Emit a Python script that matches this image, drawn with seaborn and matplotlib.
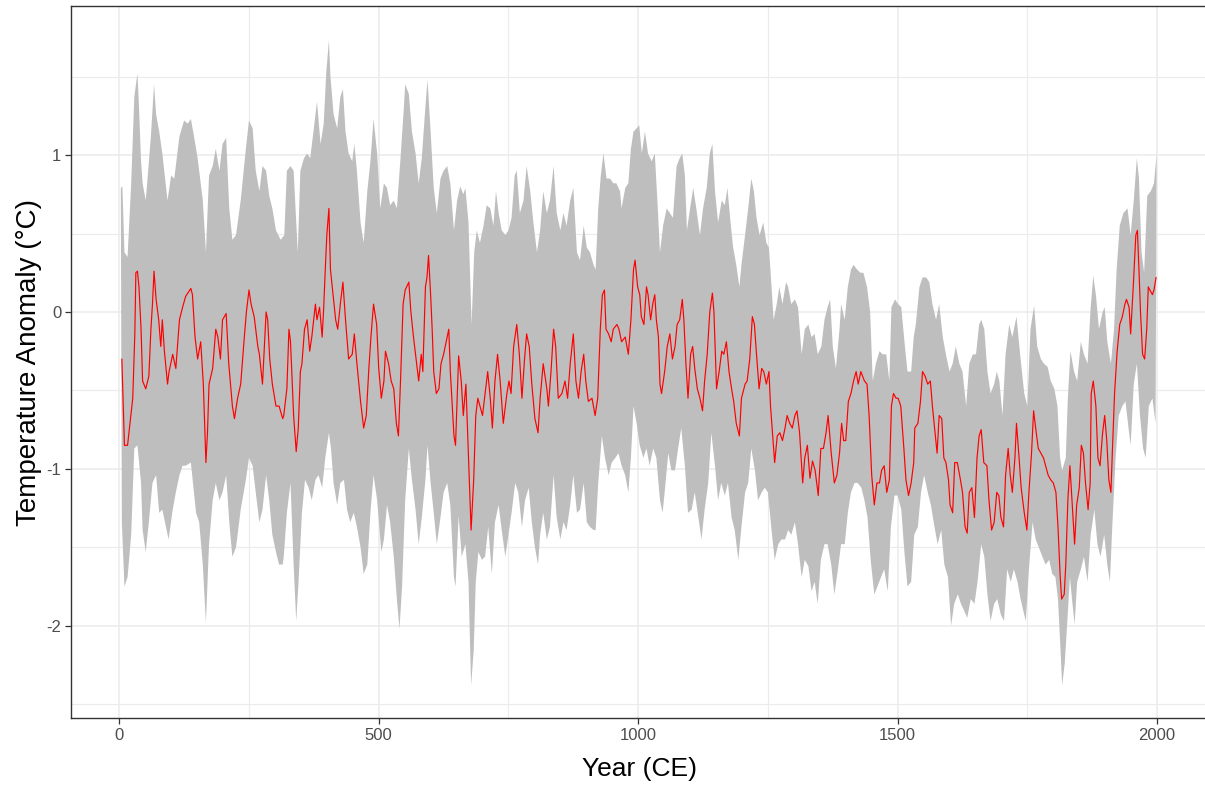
import numpy as np
import pandas as pd
import matplotlib
matplotlib.use("Agg")
import matplotlib.pyplot as plt
import seaborn as sns
from matplotlib.ticker import MultipleLocator

# ---------------- data ----------------
red_years = [5, 10, 16, 26, 30, 32, 35, 38, 42, 45, 51, 57, 61, 64, 67, 71, 76, 80, 83, 87, 93, 96,
             103, 109, 116, 122, 128, 138, 141, 146, 151, 157, 162, 167, 170, 173, 180, 186, 190, 195,
             199, 206, 211, 218, 222, 228, 234, 241, 245, 250, 254, 260, 263, 267, 270, 276, 283, 286,
             290, 295, 302, 308, 315, 317, 323, 327, 330, 336, 341, 345, 349, 352, 357, 362, 367, 371,
             378, 381, 386, 391, 394, 397, 400, 404, 407, 412, 417, 421, 426, 431, 436, 442, 449, 453,
             458, 465, 471, 476, 481, 485, 490, 496, 500, 505, 510, 513, 519, 524, 529, 534, 538, 542,
             547, 551, 558, 562, 567, 573, 577, 582, 585, 590, 593, 596, 600, 603, 606, 611, 616, 620,
             625, 630, 635, 638, 645, 648, 654, 659, 663, 668, 673, 678, 683, 687, 691, 695, 700, 705,
             710, 715, 719, 724, 729, 734, 740, 747, 751, 755, 760, 766, 771, 776, 781, 785, 790, 795,
             801, 807, 811, 817, 824, 827, 832, 837, 841, 846, 853, 859, 864, 869, 875, 880, 885, 890,
             895, 899, 904, 911, 917, 922, 927, 931, 935, 938, 943, 948, 952, 959, 963, 968, 975, 981,
             986, 991, 994, 999, 1003, 1006, 1011, 1016, 1019, 1024, 1028, 1032, 1035, 1039, 1042, 1045,
             1051, 1056, 1061, 1066, 1071, 1075, 1080, 1085, 1088, 1092, 1096, 1101, 1105, 1109, 1114,
             1119, 1124, 1128, 1133, 1138, 1143, 1146, 1151, 1156, 1161, 1165, 1170, 1175, 1180, 1184,
             1189, 1195, 1199, 1206, 1210, 1215, 1220, 1224, 1228, 1233, 1238, 1242, 1247, 1252, 1255,
             1260, 1263, 1268, 1273, 1278, 1283, 1287, 1292, 1297, 1302, 1306, 1311, 1317, 1321, 1326,
             1331, 1336, 1341, 1347, 1352, 1357, 1362, 1366, 1372, 1378, 1383, 1388, 1392, 1396, 1400,
             1405, 1410, 1415, 1420, 1424, 1429, 1436, 1441, 1445, 1450, 1455, 1460, 1465, 1469, 1474,
             1479, 1484, 1488, 1492, 1497, 1501, 1506, 1512, 1516, 1521, 1526, 1531, 1533, 1539, 1544,
             1548, 1553, 1558, 1563, 1567, 1572, 1576, 1580, 1585, 1589, 1593, 1598, 1601, 1606, 1610,
             1615, 1621, 1625, 1630, 1634, 1638, 1643, 1648, 1653, 1657, 1661, 1666, 1672, 1676, 1681,
             1686, 1691, 1695, 1699, 1704, 1708, 1713, 1717, 1721, 1726, 1729, 1734, 1738, 1744, 1749,
             1753, 1758, 1762, 1766, 1771, 1776, 1781, 1785, 1790, 1795, 1800, 1805, 1809, 1813, 1816,
             1821, 1824, 1828, 1832, 1837, 1841, 1845, 1850, 1854, 1858, 1862, 1867, 1871, 1873, 1877,
             1882, 1886, 1890, 1895, 1899, 1903, 1907, 1911, 1914, 1918, 1923, 1928, 1933, 1938, 1941,
             1946, 1949, 1954, 1959, 1962, 1965, 1968, 1972, 1976, 1980, 1983, 1986, 1991, 1994, 1998]
red_temp = [-0.30, -0.85, -0.85, -0.55, -0.14, 0.25, 0.26, 0.16, -0.11, -0.44, -0.49, -0.41, -0.11,
            0.05, 0.26, 0.08, -0.05, -0.22, -0.05, -0.25, -0.46, -0.38, -0.27, -0.36, -0.05, 0.03,
            0.10, 0.15, 0.11, -0.16, -0.30, -0.19, -0.46, -0.96, -0.77, -0.46, -0.36, -0.11, -0.16,
            -0.30, -0.05, -0.01, -0.33, -0.60, -0.68, -0.55, -0.46, -0.16, 0.0, 0.14, 0.05, -0.03,
            -0.11, -0.22, -0.27, -0.46, 0.0, -0.05, -0.30, -0.46, -0.60, -0.60, -0.68, -0.66, -0.49,
            -0.11, -0.19, -0.66, -0.89, -0.74, -0.38, -0.33, -0.11, -0.05, -0.25, -0.16, 0.05, -0.05,
            0.03, -0.16, 0.03, 0.27, 0.49, 0.66, 0.27, 0.11, -0.05, -0.11, 0.05, 0.19, -0.05, -0.30,
            -0.27, -0.14, -0.33, -0.57, -0.74, -0.66, -0.36, -0.16, 0.05, -0.08, -0.36, -0.55, -0.44,
            -0.25, -0.33, -0.44, -0.49, -0.71, -0.79, -0.44, 0.05, 0.14, 0.19, 0.0, -0.16, -0.33,
            -0.44, -0.27, -0.38, 0.16, 0.22, 0.36, 0.11, -0.11, -0.38, -0.52, -0.49, -0.33, -0.27,
            -0.19, -0.11, -0.38, -0.79, -0.85, -0.28, -0.44, -0.66, -0.46, -0.93, -1.39, -1.07, -0.66,
            -0.55, -0.60, -0.66, -0.52, -0.38, -0.55, -0.74, -0.44, -0.27, -0.44, -0.71, -0.52, -0.44,
            -0.52, -0.22, -0.08, -0.27, -0.55, -0.30, -0.14, -0.22, -0.46, -0.68, -0.77, -0.55, -0.33,
            -0.49, -0.60, -0.38, -0.11, -0.22, -0.55, -0.52, -0.44, -0.55, -0.33, -0.14, -0.44, -0.55,
            -0.38, -0.27, -0.44, -0.57, -0.55, -0.66, -0.55, -0.11, 0.11, 0.14, -0.11, -0.14, -0.19,
            -0.11, -0.08, -0.11, -0.19, -0.16, -0.27, -0.05, 0.27, 0.33, 0.16, 0.11, -0.03, -0.08,
            0.16, 0.11, -0.05, 0.05, 0.11, -0.05, -0.16, -0.46, -0.52, -0.38, -0.22, -0.14, -0.30,
            -0.22, -0.08, -0.05, 0.08, -0.05, -0.33, -0.55, -0.27, -0.22, -0.36, -0.49, -0.55, -0.63,
            -0.44, -0.27, 0.0, 0.12, 0.0, -0.49, -0.38, -0.25, -0.27, -0.19, -0.38, -0.49, -0.57,
            -0.71, -0.79, -0.55, -0.46, -0.44, -0.30, -0.03, -0.08, -0.27, -0.49, -0.36, -0.38, -0.46,
            -0.38, -0.60, -0.82, -0.96, -0.79, -0.77, -0.82, -0.74, -0.66, -0.71, -0.74, -0.66, -0.63,
            -0.77, -1.09, -0.93, -0.85, -1.06, -0.95, -1.01, -1.17, -0.87, -0.87, -0.77, -0.66, -0.90,
            -1.09, -1.04, -0.90, -0.71, -0.82, -0.82, -0.57, -0.52, -0.44, -0.38, -0.46, -0.38, -0.44,
            -0.46, -0.66, -1.04, -1.23, -1.09, -1.09, -1.01, -0.98, -1.15, -1.07, -0.60, -0.52, -0.55,
            -0.55, -0.60, -0.87, -1.07, -1.17, -1.09, -0.96, -0.74, -0.71, -0.57, -0.38, -0.41, -0.46,
            -0.44, -0.60, -0.77, -0.90, -0.66, -0.68, -0.93, -0.96, -1.07, -1.23, -1.28, -0.96, -0.96,
            -1.07, -1.15, -1.37, -1.41, -1.15, -1.12, -1.31, -0.93, -0.79, -0.75, -0.96, -0.98, -1.20,
            -1.39, -1.34, -1.15, -1.17, -1.31, -1.37, -1.04, -0.87, -1.04, -1.15, -0.93, -0.71, -0.93,
            -1.12, -1.28, -1.39, -1.15, -0.90, -0.63, -0.74, -0.87, -0.90, -0.93, -0.98, -1.04, -1.07,
            -1.09, -1.15, -1.37, -1.67, -1.83, -1.80, -1.61, -1.20, -0.98, -1.26, -1.48, -1.23, -1.12,
            -0.85, -0.90, -1.09, -1.26, -1.09, -0.52, -0.44, -0.60, -0.93, -0.98, -0.77, -0.66, -0.82,
            -1.07, -1.15, -0.87, -0.52, -0.25, -0.08, -0.03, 0.05, 0.08, 0.03, -0.14, 0.16, 0.49, 0.52,
            0.27, 0.0, -0.27, -0.30, -0.11, 0.16, 0.14, 0.11, 0.14, 0.22]

up_years = [3, 6, 10, 16, 23, 29, 35, 38, 42, 45, 51, 55, 61, 67, 71, 77, 83, 93, 100, 106, 116, 125,
            132, 138, 144, 151, 161, 167, 173, 180, 186, 193, 199, 206, 212, 218, 225, 234, 244, 250,
            257, 263, 270, 276, 283, 289, 295, 302, 311, 318, 323, 330, 336, 344, 349, 356, 362, 368,
            375, 381, 388, 394, 399, 404, 407, 413, 420, 426, 431, 436, 442, 449, 453, 458, 465, 471,
            478, 484, 490, 497, 503, 510, 516, 522, 529, 535, 542, 548, 551, 558, 564, 571, 577, 583,
            590, 594, 600, 606, 612, 619, 625, 632, 638, 645, 651, 657, 663, 667, 673, 679, 684, 689,
            695, 702, 708, 715, 721, 726, 731, 737, 744, 750, 756, 762, 766, 772, 779, 785, 792, 798,
            805, 811, 817, 824, 830, 837, 843, 850, 856, 862, 869, 875, 882, 888, 895, 901, 907, 914,
            918, 923, 928, 933, 939, 946, 952, 958, 965, 968, 975, 981, 986, 991, 997, 1002, 1007,
            1013, 1019, 1026, 1032, 1037, 1042, 1048, 1055, 1061, 1067, 1074, 1080, 1085, 1090, 1094,
            1100, 1106, 1112, 1119, 1125, 1132, 1138, 1143, 1148, 1154, 1161, 1167, 1172, 1178, 1183,
            1189, 1195, 1199, 1206, 1212, 1218, 1223, 1228, 1234, 1241, 1247, 1252, 1257, 1261, 1267,
            1272, 1278, 1285, 1289, 1295, 1302, 1308, 1315, 1321, 1328, 1334, 1340, 1346, 1353, 1359,
            1365, 1370, 1375, 1381, 1388, 1391, 1398, 1404, 1410, 1415, 1422, 1428, 1434, 1441, 1447,
            1452, 1458, 1465, 1471, 1478, 1484, 1488, 1495, 1501, 1507, 1514, 1519, 1526, 1531, 1535,
            1542, 1548, 1555, 1561, 1567, 1574, 1580, 1587, 1593, 1600, 1606, 1612, 1619, 1625, 1632,
            1638, 1645, 1651, 1657, 1661, 1667, 1673, 1679, 1686, 1691, 1696, 1702, 1708, 1715, 1721,
            1729, 1736, 1744, 1750, 1756, 1763, 1769, 1776, 1782, 1789, 1795, 1802, 1808, 1813, 1817,
            1824, 1828, 1833, 1840, 1846, 1853, 1859, 1866, 1872, 1877, 1882, 1888, 1895, 1899, 1904,
            1911, 1917, 1922, 1928, 1935, 1943, 1949, 1955, 1961, 1965, 1970, 1975, 1981, 1988, 1994,
            1999]
up_temp = [0.79, 0.80, 0.38, 0.35, 0.82, 1.37, 1.52, 1.31, 0.96, 0.82, 0.71, 0.87, 1.12, 1.45, 1.26,
           1.15, 1.01, 0.71, 0.87, 0.85, 1.12, 1.22, 1.20, 1.23, 1.12, 0.98, 0.71, 0.38, 0.87, 0.93,
           1.04, 0.90, 1.07, 1.11, 0.66, 0.46, 0.49, 0.71, 1.04, 1.22, 1.17, 0.90, 0.77, 0.93, 0.90,
           0.74, 0.66, 0.52, 0.46, 0.49, 0.90, 0.93, 0.90, 0.38, 0.90, 0.98, 1.01, 0.98, 1.17, 1.34,
           1.07, 1.20, 1.53, 1.73, 1.50, 1.26, 1.17, 1.37, 1.42, 1.15, 1.01, 0.96, 1.07, 0.90, 0.57,
           0.44, 0.77, 0.96, 1.23, 1.01, 0.66, 0.82, 0.79, 0.68, 0.71, 0.66, 0.98, 1.28, 1.45, 1.39,
           1.15, 1.01, 0.82, 0.98, 1.31, 1.48, 1.15, 0.79, 0.63, 0.85, 0.90, 0.93, 0.82, 0.52, 0.71,
           0.80, 0.75, 0.79, 0.57, -0.08, 0.38, 0.52, 0.44, 0.55, 0.68, 0.66, 0.55, 0.77, 0.63, 0.52,
           0.49, 0.52, 0.60, 0.87, 0.90, 0.63, 0.71, 0.93, 0.77, 0.57, 0.38, 0.52, 0.77, 0.63, 0.71,
           0.93, 0.63, 0.52, 0.63, 0.55, 0.71, 0.79, 0.38, 0.33, 0.55, 0.41, 0.38, 0.30, 0.27, 0.66,
           0.87, 1.01, 0.85, 0.85, 0.82, 0.82, 0.77, 0.66, 0.79, 0.82, 1.04, 1.15, 1.17, 1.19, 1.01,
           1.15, 1.01, 0.96, 1.01, 0.71, 0.38, 0.55, 0.66, 0.63, 0.60, 0.93, 0.98, 1.01, 0.87, 0.52,
           0.66, 0.79, 0.66, 0.49, 0.66, 0.79, 1.01, 1.07, 0.77, 0.57, 0.71, 0.68, 0.79, 0.57, 0.41,
           0.30, 0.16, 0.30, 0.49, 0.66, 0.85, 0.77, 0.60, 0.49, 0.57, 0.44, 0.41, 0.16, -0.05, 0.05,
           0.16, 0.05, 0.19, 0.16, 0.05, 0.08, 0.03, -0.27, -0.11, -0.08, -0.16, -0.14, -0.27, -0.22,
           -0.05, 0.03, 0.08, -0.22, -0.36, -0.11, 0.05, -0.05, 0.16, 0.27, 0.30, 0.27, 0.25, 0.25,
           0.16, 0.0, -0.44, -0.33, -0.25, -0.27, -0.27, -0.44, 0.03, 0.08, 0.05, 0.03, -0.22, -0.38,
           -0.38, -0.16, -0.08, 0.16, 0.22, 0.22, 0.19, 0.05, -0.05, 0.05, -0.16, -0.27, -0.38, -0.33,
           -0.22, -0.33, -0.38, -0.60, -0.33, -0.27, -0.27, -0.08, -0.05, -0.11, -0.38, -0.52, -0.46,
           -0.38, -0.44, -0.66, -0.27, -0.08, -0.16, -0.03, -0.27, -0.52, -0.60, -0.11, 0.04, -0.22,
           -0.30, -0.33, -0.35, -0.44, -0.49, -0.60, -0.93, -1.01, -0.93, -0.55, -0.25, -0.38, -0.44,
           -0.19, -0.27, -0.33, 0.03, 0.23, 0.11, -0.11, 0.0, 0.03, -0.19, -0.33, -0.11, 0.27, 0.55,
           0.63, 0.66, 0.49, 0.71, 0.98, 0.85, 0.38, 0.25, 0.74, 0.77, 0.82, 1.00]

lo_years = [5, 10, 16, 23, 29, 35, 42, 45, 51, 57, 64, 71, 77, 83, 90, 95, 103, 109, 116, 122, 128,
            138, 148, 154, 161, 167, 173, 180, 186, 193, 199, 206, 212, 218, 225, 234, 244, 250, 257,
            263, 270, 276, 283, 289, 295, 302, 308, 315, 317, 323, 330, 336, 341, 345, 352, 358, 365,
            371, 378, 384, 391, 397, 404, 408, 413, 420, 426, 433, 439, 445, 452, 458, 465, 471, 478,
            484, 490, 497, 505, 510, 516, 522, 529, 535, 540, 545, 551, 558, 564, 571, 577, 583, 590,
            594, 600, 606, 612, 619, 625, 632, 638, 645, 648, 654, 660, 667, 673, 678, 683, 687, 692,
            699, 705, 711, 718, 724, 731, 737, 744, 750, 756, 763, 769, 776, 782, 789, 795, 801, 807,
            811, 817, 824, 830, 837, 843, 850, 856, 862, 869, 875, 882, 888, 895, 901, 907, 914, 918,
            923, 930, 936, 943, 949, 956, 962, 968, 975, 981, 986, 991, 997, 1003, 1010, 1016, 1022,
            1029, 1035, 1042, 1047, 1051, 1058, 1064, 1071, 1077, 1083, 1090, 1096, 1103, 1109, 1116,
            1122, 1128, 1135, 1141, 1148, 1154, 1160, 1167, 1173, 1180, 1186, 1193, 1199, 1206, 1212,
            1218, 1225, 1231, 1238, 1244, 1250, 1257, 1263, 1270, 1276, 1283, 1289, 1295, 1302, 1308,
            1315, 1321, 1328, 1334, 1340, 1346, 1352, 1359, 1365, 1372, 1378, 1385, 1391, 1398, 1404,
            1410, 1417, 1423, 1430, 1436, 1442, 1448, 1455, 1461, 1468, 1474, 1481, 1487, 1494, 1500,
            1507, 1513, 1519, 1526, 1532, 1539, 1545, 1551, 1558, 1564, 1571, 1577, 1584, 1590, 1597,
            1603, 1609, 1616, 1622, 1629, 1634, 1641, 1648, 1654, 1661, 1667, 1673, 1679, 1686, 1692,
            1699, 1705, 1711, 1718, 1724, 1731, 1737, 1744, 1747, 1753, 1760, 1766, 1772, 1779, 1785,
            1792, 1798, 1804, 1809, 1814, 1817, 1822, 1827, 1832, 1836, 1841, 1846, 1853, 1859, 1866,
            1872, 1879, 1885, 1891, 1898, 1904, 1909, 1914, 1920, 1926, 1933, 1939, 1946, 1949, 1955,
            1961, 1967, 1973, 1978, 1984, 1991, 1997]
lo_temp = [-1.34, -1.75, -1.69, -1.42, -0.87, -0.85, -1.09, -1.39, -1.53, -1.34, -1.09, -1.04, -1.28,
           -1.26, -1.37, -1.45, -1.26, -1.15, -1.04, -0.98, -0.98, -0.96, -1.28, -1.34, -1.61, -1.98,
           -1.48, -1.20, -1.09, -1.20, -1.15, -1.04, -1.34, -1.56, -1.50, -1.26, -1.07, -0.93, -0.98,
           -1.15, -1.34, -1.26, -1.04, -1.20, -1.42, -1.53, -1.61, -1.61, -1.56, -1.28, -1.09, -1.61,
           -1.97, -1.75, -1.28, -1.07, -1.12, -1.20, -1.07, -1.04, -1.12, -0.93, -0.77, -0.87, -1.09,
           -1.23, -1.09, -1.07, -1.26, -1.34, -1.28, -1.37, -1.50, -1.67, -1.61, -1.28, -1.04, -1.20,
           -1.53, -1.45, -1.23, -1.34, -1.56, -1.83, -2.02, -1.75, -1.20, -0.87, -1.07, -1.26, -1.48,
           -1.31, -1.07, -0.85, -1.09, -1.28, -1.48, -1.31, -1.15, -1.09, -1.23, -1.69, -1.75, -1.30,
           -1.56, -1.48, -1.72, -2.38, -2.16, -1.72, -1.53, -1.58, -1.56, -1.37, -1.67, -1.34, -1.23,
           -1.39, -1.56, -1.42, -1.28, -1.09, -1.15, -1.37, -1.20, -1.12, -1.34, -1.50, -1.61, -1.42,
           -1.28, -1.45, -1.37, -1.04, -1.31, -1.45, -1.34, -1.39, -1.23, -1.04, -1.28, -1.26, -1.09,
           -1.34, -1.37, -1.39, -1.39, -1.09, -0.79, -0.93, -1.04, -0.96, -0.93, -0.90, -0.98, -1.04,
           -1.15, -0.93, -0.60, -0.71, -0.85, -0.93, -0.87, -0.98, -0.87, -0.93, -1.20, -1.28, -1.15,
           -0.90, -1.01, -1.01, -0.87, -0.74, -0.98, -1.28, -1.26, -1.15, -1.31, -1.45, -1.26, -1.09,
           -0.77, -0.98, -1.20, -1.09, -1.17, -1.09, -1.31, -1.39, -1.58, -1.37, -1.15, -1.09, -0.87,
           -1.01, -1.20, -1.15, -1.12, -1.15, -1.39, -1.58, -1.48, -1.45, -1.45, -1.39, -1.42, -1.34,
           -1.48, -1.69, -1.58, -1.62, -1.78, -1.72, -1.86, -1.58, -1.48, -1.48, -1.61, -1.80, -1.64,
           -1.48, -1.48, -1.28, -1.15, -1.09, -1.09, -1.12, -1.20, -1.31, -1.58, -1.80, -1.75, -1.69,
           -1.64, -1.78, -1.37, -1.17, -1.17, -1.26, -1.53, -1.75, -1.72, -1.42, -1.37, -1.15, -1.04,
           -1.15, -1.23, -1.37, -1.48, -1.39, -1.61, -1.69, -2.00, -1.86, -1.80, -1.86, -1.91, -1.95,
           -1.83, -1.86, -1.72, -1.48, -1.56, -1.80, -1.97, -1.86, -1.83, -1.93, -1.97, -1.64, -1.72,
           -1.64, -1.72, -1.83, -1.93, -1.97, -1.64, -1.34, -1.45, -1.50, -1.56, -1.61, -1.58, -1.67,
           -1.69, -1.83, -2.16, -2.38, -2.24, -1.97, -1.69, -1.83, -1.99, -1.72, -1.64, -1.56, -1.72,
           -1.42, -1.26, -1.48, -1.56, -1.42, -1.61, -1.72, -1.34, -0.93, -0.66, -0.60, -0.57, -0.77,
           -0.85, -0.46, -0.33, -0.66, -0.87, -0.93, -0.60, -0.55, -0.71]

x_ticks = [0, 500, 1000, 1500, 2000]
y_ticks = [-2, -1, 0, 1]
x_label = "Year (CE)"
y_label = "Temperature Anomaly (°C)"

# ---------------- styling ----------------
sns.set_theme(style="white")
plt.rcParams["font.family"] = ["Liberation Sans", "DejaVu Sans"]

fig = plt.figure(figsize=(12.05, 7.86), dpi=100)
ax = fig.add_axes([71 / 1205, 1 - 718 / 786, (1209 - 71) / 1205, (718 - 6) / 786])
ax.set_facecolor("white")

# grid (ggplot theme_bw-like)
ax.xaxis.set_major_locator(MultipleLocator(500))
ax.xaxis.set_minor_locator(MultipleLocator(250))
ax.yaxis.set_major_locator(MultipleLocator(1))
ax.yaxis.set_minor_locator(MultipleLocator(0.5))
ax.grid(which="major", color="#EBEBEB", linewidth=1.1)
ax.grid(which="minor", color="#EBEBEB", linewidth=0.8)
ax.set_axisbelow(True)

# uncertainty band
band_x = np.concatenate([up_years, lo_years[::-1]])
band_y = np.concatenate([up_temp, lo_temp[::-1]])
ax.fill(band_x, band_y, color="#BEBEBE", linewidth=0, zorder=2)

# smoothed red line
df_red = pd.DataFrame({"year": red_years, "temp": red_temp})
sns.lineplot(data=df_red, x="year", y="temp", ax=ax, color="#FF0000",
             linewidth=0.85, estimator=None, sort=False, zorder=3)

ax.set_xlim(-93, 2100)
ax.set_ylim(-2.588, 1.950)
ax.set_xticks(x_ticks)
ax.set_xticklabels([str(t) for t in x_ticks])
ax.set_yticks(y_ticks)
ax.set_yticklabels([str(t) for t in y_ticks])

ax.tick_params(axis="both", which="major", length=4, width=0.9, color="#333333",
               labelsize=12, labelcolor="#4D4D4D", pad=3, bottom=True, left=True)
ax.tick_params(axis="both", which="minor", length=0)

for side in ["left", "bottom", "top", "right"]:
    ax.spines[side].set_visible(True)
    ax.spines[side].set_color("#333333")
    ax.spines[side].set_linewidth(1.0)

ax.set_xlabel(x_label, fontsize=19, color="black", labelpad=10)
ax.set_ylabel(y_label, fontsize=20, color="black", labelpad=3)

fig.savefig("out.png", dpi=100)
